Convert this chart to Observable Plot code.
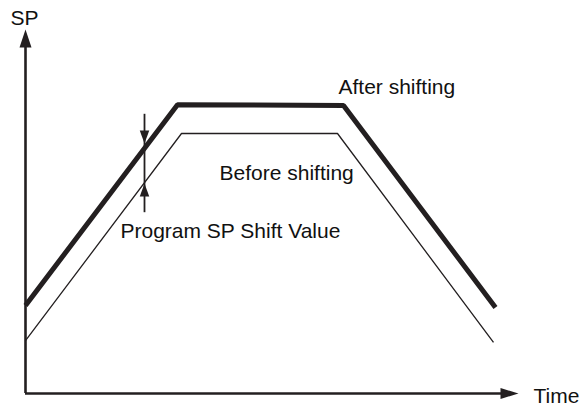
<!DOCTYPE html>
<html>
<head>
<meta charset="utf-8">
<script src="https://cdn.jsdelivr.net/npm/d3@7"></script>
<script src="https://cdn.jsdelivr.net/npm/@observablehq/plot@0.6"></script>
<style>
  html, body { margin: 0; padding: 0; background: #fff; }
  #chart svg { display: block; }
</style>
</head>
<body>
<div id="chart"></div>
<script>
// ---- data (time units vs SP units) ----
const timeBefore = [0, 31.2, 62.4, 93.6];
const spBefore   = [13.2, 65, 65, 12.8];
const timeAfter  = [0, 30.4, 63.6, 94];
const spAfter    = [22, 72.2, 72, 21.5];

// shift-value indicator (time, SP at top end, SP at bottom end, tip SPs)
const shiftTime = [23.8];
const shiftTop = [69.8];
const shiftBottom = [45.2];
const shiftTips = [62.5, 52.5];

// axis extents
const timeMax = 98.6;
const spMax = 91;

// text labels
const labelText = ["SP", "Time", "After shifting", "Before shifting", "Program SP Shift Value"];
const labelTime = [-3, 101.6, 62.6, 38.8, 19];
const labelSP   = [93.9, -0.6, 76.6, 55.1, 40.6];

// ---- build tables ----
const before = timeBefore.map((t, i) => ({t, sp: spBefore[i]}));
const after = timeAfter.map((t, i) => ({t, sp: spAfter[i]}));
const labels = labelText.map((text, i) => ({text, t: labelTime[i], sp: labelSP[i]}));

const ink = "#231f20";

function tri(dir, w, h) {
  return {
    draw(ctx) {
      ctx.moveTo(0, 0);
      if (dir === "up") { ctx.lineTo(-w / 2, h); ctx.lineTo(w / 2, h); }
      else if (dir === "down") { ctx.lineTo(-w / 2, -h); ctx.lineTo(w / 2, -h); }
      else { ctx.lineTo(-h, -w / 2); ctx.lineTo(-h, w / 2); }
      ctx.closePath();
    }
  };
}

const chart = Plot.plot({
  width: 580,
  height: 408,
  margin: 0,
  style: {background: "#fff", fontFamily: "'Liberation Sans', Arial, Helvetica, sans-serif"},
  x: {domain: [0, timeMax], range: [25, 518], axis: null},
  y: {domain: [0, spMax], range: [393, 29], axis: null},
  marks: [
    // axes
    Plot.ruleY([0], {x1: 0, x2: timeMax - 3.4, stroke: ink, strokeWidth: 2.6}),
    Plot.ruleX([0], {y1: 0, y2: spMax - 4.3, stroke: ink, strokeWidth: 2.6}),
    Plot.dot([{t: 0, sp: spMax}], {x: "t", y: "sp", symbol: tri("up", 12, 18), fill: ink, stroke: "none"}),
    Plot.dot([{t: timeMax, sp: 0}], {x: "t", y: "sp", symbol: tri("right", 11, 18), fill: ink, stroke: "none"}),
    // profiles
    Plot.line(before, {x: "t", y: "sp", stroke: ink, strokeWidth: 1.3, strokeLinejoin: "miter", strokeLinecap: "butt"}),
    Plot.line(after, {x: "t", y: "sp", stroke: ink, strokeWidth: 5, strokeLinejoin: "miter", strokeLinecap: "butt"}),
    // shift indicator
    Plot.ruleX(shiftTime, {y1: shiftTop[0], y2: shiftBottom[0], stroke: ink, strokeWidth: 1.8}),
    Plot.dot([{t: shiftTime[0], sp: shiftTips[0]}], {x: "t", y: "sp", symbol: tri("down", 9.5, 13), fill: ink, stroke: "none"}),
    Plot.dot([{t: shiftTime[0], sp: shiftTips[1]}], {x: "t", y: "sp", symbol: tri("up", 9.5, 13), fill: ink, stroke: "none"}),
    // labels
    Plot.text(labels, {x: "t", y: "sp", text: "text", textAnchor: "start", fontSize: 21, fill: "#111"})
  ]
});
document.getElementById("chart").appendChild(chart);
</script>
</body>
</html>
